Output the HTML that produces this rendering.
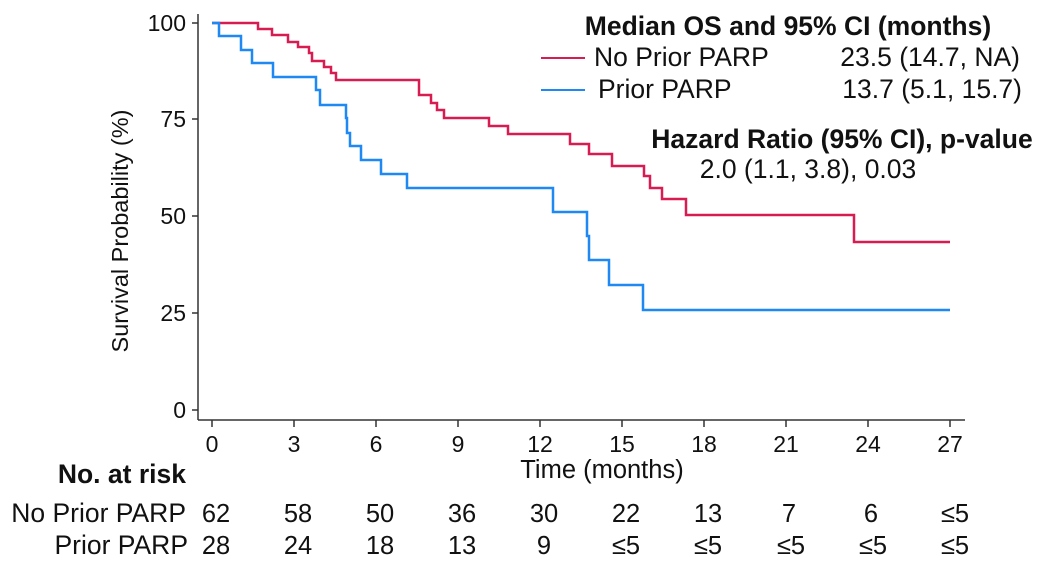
<!DOCTYPE html>
<html><head><meta charset="utf-8"><style>
html,body{margin:0;padding:0;background:#fff;}
svg{display:block;font-family:"Liberation Sans",Arial,sans-serif;}
</style></head><body>
<svg width="1041" height="583" viewBox="0 0 1041 583" xmlns="http://www.w3.org/2000/svg">
<g stroke="#333" stroke-width="1.5" fill="none">
<line x1="198" y1="14" x2="198" y2="420"/>
<line x1="198" y1="420" x2="965" y2="420"/>
<line x1="192" y1="23" x2="198" y2="23"/>
<line x1="192" y1="119" x2="198" y2="119"/>
<line x1="192" y1="216" x2="198" y2="216"/>
<line x1="192" y1="313" x2="198" y2="313"/>
<line x1="192" y1="410" x2="198" y2="410"/>
<line x1="212" y1="420" x2="212" y2="427"/><line x1="294" y1="420" x2="294" y2="427"/>
<line x1="376" y1="420" x2="376" y2="427"/><line x1="458" y1="420" x2="458" y2="427"/>
<line x1="540" y1="420" x2="540" y2="427"/><line x1="622" y1="420" x2="622" y2="427"/>
<line x1="704" y1="420" x2="704" y2="427"/><line x1="786" y1="420" x2="786" y2="427"/>
<line x1="868" y1="420" x2="868" y2="427"/><line x1="950" y1="420" x2="950" y2="427"/>
</g>
<g font-size="23" fill="#111" text-anchor="end">
<text x="186" y="31">100</text><text x="186" y="127">75</text><text x="186" y="224">50</text><text x="186" y="321">25</text><text x="186" y="418">0</text>
</g>
<g font-size="23" fill="#111" text-anchor="middle">
<text x="212" y="452">0</text><text x="294" y="452">3</text><text x="376" y="452">6</text><text x="458" y="452">9</text><text x="540" y="452">12</text><text x="622" y="452">15</text><text x="704" y="452">18</text><text x="786" y="452">21</text><text x="868" y="452">24</text><text x="950" y="452">27</text>
<text x="602" y="478" font-size="25.5">Time (months)</text>
<text transform="translate(128,231) rotate(-90)" font-size="23.5">Survival Probability (%)</text>
</g>
<polyline fill="none" stroke="#d81b50" stroke-width="2.5" points="212,23 258,23 258,29 272,29 272,35 288,35 288,42 298,42 298,47 309,47 309,53 312,53 312,61 324,61 324,67 331,67 331,73 336,73 336,80 419,80 419,95 431,95 431,103 437,103 437,110 444,110 444,118 489,118 489,126 508,126 508,134 570,134 570,144 589,144 589,154 612,154 612,166 644,166 644,176 650,176 650,188 662,188 662,199 686,199 686,215 854,215 854,242 950,242"/>
<polyline fill="none" stroke="#1e88f5" stroke-width="2.5" points="212,23 219,23 219,36 241,36 241,50 252,50 252,63 273,63 273,77 316,77 316,90 320,90 320,105 346,105 346,118 347,118 347,133 350,133 350,146 361,146 361,160 381,160 381,174 407,174 407,188 553,188 553,212 587,212 587,236 589,236 589,260 609,260 609,285 643,285 643,310 950,310"/>
<g font-size="26.5" fill="#111">
<text x="788" y="35" text-anchor="middle" font-weight="bold">Median OS and 95% CI (months)</text>
<line x1="541" y1="58" x2="585" y2="58" stroke="#d81b50" stroke-width="2"/>
<line x1="541" y1="90" x2="585" y2="90" stroke="#1e88f5" stroke-width="2"/>
<text x="594" y="66">No Prior PARP</text>
<text x="598" y="98">Prior PARP</text>
<text x="1020" y="66" text-anchor="end">23.5 (14.7, NA)</text>
<text x="1022" y="98" text-anchor="end">13.7 (5.1, 15.7)</text>
<text x="842" y="148" text-anchor="middle" font-weight="bold">Hazard Ratio (95% CI), p-value</text>
<text x="808" y="178" text-anchor="middle">2.0 (1.1, 3.8), 0.03</text>
<text x="186" y="483" text-anchor="end" font-weight="bold">No. at risk</text>
<text x="186" y="522" text-anchor="end">No Prior PARP</text>
<text x="188" y="554" text-anchor="end">Prior PARP</text>
</g>
<g font-size="25.5" fill="#111" text-anchor="middle">
<text x="216" y="522">62</text><text x="298" y="522">58</text><text x="380" y="522">50</text><text x="462" y="522">36</text><text x="544" y="522">30</text><text x="626" y="522">22</text><text x="708" y="522">13</text><text x="789" y="522">7</text><text x="871" y="522">6</text><text x="955" y="522">≤5</text>
<text x="216" y="554">28</text><text x="298" y="554">24</text><text x="380" y="554">18</text><text x="462" y="554">13</text><text x="544" y="554">9</text><text x="626" y="554">≤5</text><text x="708" y="554">≤5</text><text x="791" y="554">≤5</text><text x="873" y="554">≤5</text><text x="955" y="554">≤5</text>
</g>
</svg>
</body></html>
